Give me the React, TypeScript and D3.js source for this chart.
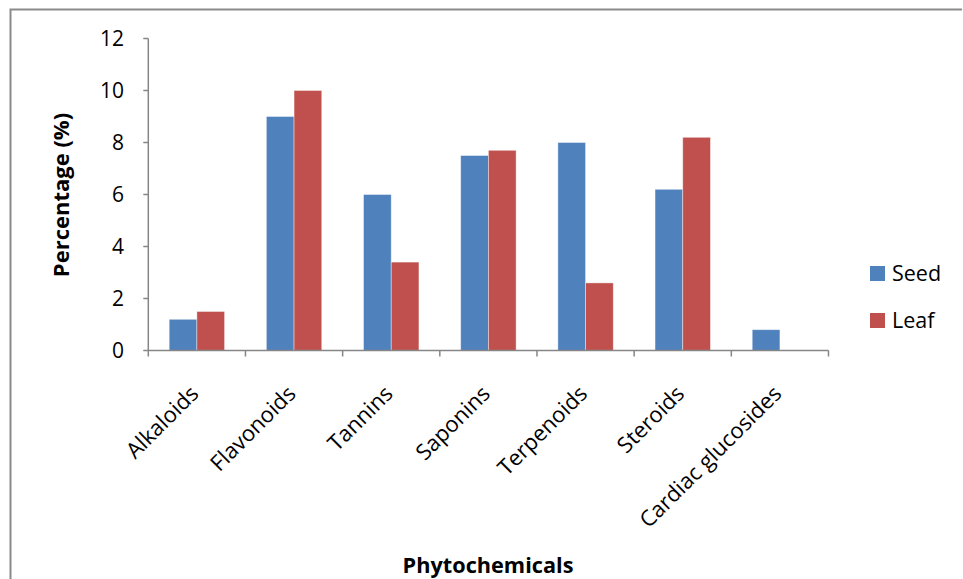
import React from "react";
import * as d3 from "d3";

const categories = ["Alkaloids", "Flavonoids", "Tannins", "Saponins", "Terpenoids", "Steroids", "Cardiac glucosides"];
const seedValues = [1.2, 9, 6, 7.5, 8, 6.2, 0.8];
const leafValues = [1.5, 10, 3.4, 7.7, 2.6, 8.2, 0];
const seriesNames = ["Seed", "Leaf"];
const seriesColors = ["#4F81BD", "#C0504D"];
const yTicks = [0, 2, 4, 6, 8, 10, 12];

const W = 963;
const H = 579;
const FONT = "'Open Sans', Lato, sans-serif";

export default function App() {
  const x0 = 148.3;
  const x1 = 828.5;
  const y = d3.scaleLinear().domain([0, 12]).range([350.5, 38.5]);
  const xb = d3.scaleBand<string>().domain(categories).range([x0, x1]).paddingInner(0).paddingOuter(0);
  const inner = d3.scaleBand<string>().domain(seriesNames).range([0, xb.bandwidth()]).paddingInner(0).paddingOuter(0.754);
  const series = [seedValues, leafValues];
  const axisColor = "#868686";

  return (
    <svg width={W} height={H} style={{ position: "absolute", left: 0, top: 0, background: "#fff" }} fontFamily={FONT}>
      <rect x={0} y={0} width={W} height={H} fill="#fff" />
      {/* frame */}
      <path d={`M10.5,${H} L10.5,9.5 L${W - 1},9.5`} fill="none" stroke="#8a8a8a" strokeWidth={2} />
      {/* bars */}
      {series.map((vals, si) =>
        categories.map((c, i) =>
          vals[i] > 0 ? (
            <rect
              key={`${si}-${i}`}
              x={(xb(c) as number) + (inner(seriesNames[si]) as number)}
              y={y(vals[i])}
              width={inner.bandwidth()}
              height={y(0) - y(vals[i])}
              fill={seriesColors[si]}
              stroke="#ffffff"
              strokeOpacity={0.5}
              strokeWidth={0.8}
            />
          ) : null
        )
      )}
      {/* y axis */}
      <line x1={x0} x2={x0} y1={y(12)} y2={y(0)} stroke={axisColor} strokeWidth={1.5} />
      {yTicks.map((t) => (
        <g key={t}>
          <line x1={x0 - 5} x2={x0} y1={y(t)} y2={y(t)} stroke={axisColor} strokeWidth={1.5} />
          <text x={124} y={y(t)} dy="0.36em" textAnchor="end" fontSize={21} fill="#000">
            {t}
          </text>
        </g>
      ))}
      {/* x axis */}
      <line x1={x0} x2={x1} y1={y(0)} y2={y(0)} stroke={axisColor} strokeWidth={1.5} />
      {d3.range(categories.length + 1).map((i) => {
        const xx = x0 + i * xb.bandwidth();
        return <line key={i} x1={xx} x2={xx} y1={y(0)} y2={y(0) + 6} stroke={axisColor} strokeWidth={1.5} />;
      })}
      {categories.map((c) => {
        const cx = (xb(c) as number) + xb.bandwidth() / 2;
        return (
          <text
            key={c}
            transform={`translate(${cx + 3},${395}) rotate(-45)`}
            textAnchor="end"
            fontSize={22}
            fill="#000"
          >
            {c}
          </text>
        );
      })}
      {/* axis titles */}
      <text transform={`translate(69,195) rotate(-90)`} textAnchor="middle" fontSize={22} fontWeight="bold" fill="#000">
        Percentage (%)
      </text>
      <text x={488} y={573} textAnchor="middle" fontSize={21.7} fontWeight="bold" fill="#000">
        Phytochemicals
      </text>
      {/* legend */}
      {seriesNames.map((n, i) => (
        <g key={n} transform={`translate(870,${266 + i * 47})`}>
          <rect x={0} y={0} width={15} height={15} fill={seriesColors[i]} />
          <text x={22} y={15} fontSize={21.5} fill="#000">
            {n}
          </text>
        </g>
      ))}
    </svg>
  );
}
